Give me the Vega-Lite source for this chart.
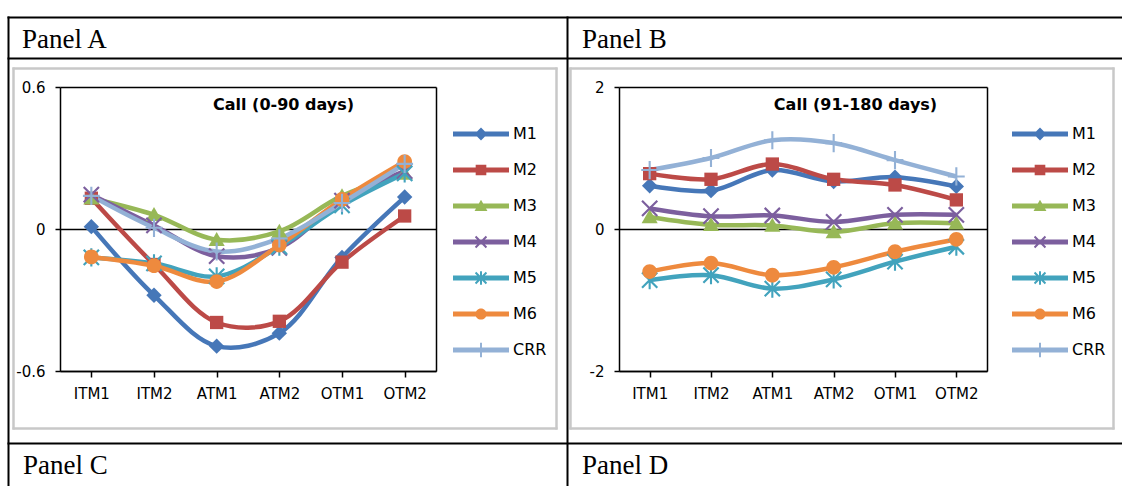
{
  "$schema": "https://vega.github.io/schema/vega-lite/v6.json",
  "background": "white",
  "padding": 0,
  "width": 1122,
  "height": 486,
  "view": {"stroke": null},
  "config": {
    "axis": {"labelFont": "DejaVu Sans", "labelColor": "black", "tickColor": "black", "domainColor": "black"}
  },
  "datasets": {
    "a": [
      {"s": "M1", "k": "ITM1", "v": 0.01}, {"s": "M1", "k": "ITM2", "v": -0.28}, {"s": "M1", "k": "ATM1", "v": -0.495}, {"s": "M1", "k": "ATM2", "v": -0.44}, {"s": "M1", "k": "OTM1", "v": -0.12}, {"s": "M1", "k": "OTM2", "v": 0.135},
      {"s": "M2", "k": "ITM1", "v": 0.13}, {"s": "M2", "k": "ITM2", "v": -0.15}, {"s": "M2", "k": "ATM1", "v": -0.395}, {"s": "M2", "k": "ATM2", "v": -0.39}, {"s": "M2", "k": "OTM1", "v": -0.14}, {"s": "M2", "k": "OTM2", "v": 0.055},
      {"s": "M3", "k": "ITM1", "v": 0.13}, {"s": "M3", "k": "ITM2", "v": 0.06}, {"s": "M3", "k": "ATM1", "v": -0.045}, {"s": "M3", "k": "ATM2", "v": -0.01}, {"s": "M3", "k": "OTM1", "v": 0.14}, {"s": "M3", "k": "OTM2", "v": 0.235},
      {"s": "M4", "k": "ITM1", "v": 0.145}, {"s": "M4", "k": "ITM2", "v": 0.015}, {"s": "M4", "k": "ATM1", "v": -0.115}, {"s": "M4", "k": "ATM2", "v": -0.08}, {"s": "M4", "k": "OTM1", "v": 0.12}, {"s": "M4", "k": "OTM2", "v": 0.245},
      {"s": "M5", "k": "ITM1", "v": -0.12}, {"s": "M5", "k": "ITM2", "v": -0.145}, {"s": "M5", "k": "ATM1", "v": -0.2}, {"s": "M5", "k": "ATM2", "v": -0.075}, {"s": "M5", "k": "OTM1", "v": 0.1}, {"s": "M5", "k": "OTM2", "v": 0.235},
      {"s": "M6", "k": "ITM1", "v": -0.118}, {"s": "M6", "k": "ITM2", "v": -0.155}, {"s": "M6", "k": "ATM1", "v": -0.222}, {"s": "M6", "k": "ATM2", "v": -0.068}, {"s": "M6", "k": "OTM1", "v": 0.125}, {"s": "M6", "k": "OTM2", "v": 0.285},
      {"s": "CRR", "k": "ITM1", "v": 0.14}, {"s": "CRR", "k": "ITM2", "v": 0.005}, {"s": "CRR", "k": "ATM1", "v": -0.095}, {"s": "CRR", "k": "ATM2", "v": -0.04}, {"s": "CRR", "k": "OTM1", "v": 0.11}, {"s": "CRR", "k": "OTM2", "v": 0.275}
    ],
    "b": [
      {"s": "M1", "k": "ITM1", "v": 0.61}, {"s": "M1", "k": "ITM2", "v": 0.54}, {"s": "M1", "k": "ATM1", "v": 0.83}, {"s": "M1", "k": "ATM2", "v": 0.67}, {"s": "M1", "k": "OTM1", "v": 0.73}, {"s": "M1", "k": "OTM2", "v": 0.6},
      {"s": "M2", "k": "ITM1", "v": 0.78}, {"s": "M2", "k": "ITM2", "v": 0.7}, {"s": "M2", "k": "ATM1", "v": 0.915}, {"s": "M2", "k": "ATM2", "v": 0.7}, {"s": "M2", "k": "OTM1", "v": 0.62}, {"s": "M2", "k": "OTM2", "v": 0.41},
      {"s": "M3", "k": "ITM1", "v": 0.17}, {"s": "M3", "k": "ITM2", "v": 0.06}, {"s": "M3", "k": "ATM1", "v": 0.05}, {"s": "M3", "k": "ATM2", "v": -0.04}, {"s": "M3", "k": "OTM1", "v": 0.08}, {"s": "M3", "k": "OTM2", "v": 0.08},
      {"s": "M4", "k": "ITM1", "v": 0.29}, {"s": "M4", "k": "ITM2", "v": 0.18}, {"s": "M4", "k": "ATM1", "v": 0.19}, {"s": "M4", "k": "ATM2", "v": 0.1}, {"s": "M4", "k": "OTM1", "v": 0.2}, {"s": "M4", "k": "OTM2", "v": 0.2},
      {"s": "M5", "k": "ITM1", "v": -0.72}, {"s": "M5", "k": "ITM2", "v": -0.65}, {"s": "M5", "k": "ATM1", "v": -0.84}, {"s": "M5", "k": "ATM2", "v": -0.71}, {"s": "M5", "k": "OTM1", "v": -0.46}, {"s": "M5", "k": "OTM2", "v": -0.25},
      {"s": "M6", "k": "ITM1", "v": -0.6}, {"s": "M6", "k": "ITM2", "v": -0.48}, {"s": "M6", "k": "ATM1", "v": -0.65}, {"s": "M6", "k": "ATM2", "v": -0.54}, {"s": "M6", "k": "OTM1", "v": -0.32}, {"s": "M6", "k": "OTM2", "v": -0.145},
      {"s": "CRR", "k": "ITM1", "v": 0.83}, {"s": "CRR", "k": "ITM2", "v": 1.0}, {"s": "CRR", "k": "ATM1", "v": 1.25}, {"s": "CRR", "k": "ATM2", "v": 1.21}, {"s": "CRR", "k": "OTM1", "v": 0.97}, {"s": "CRR", "k": "OTM2", "v": 0.74}
    ],
    "one": [{"z": 0}]
  },
  "resolve": {"scale": {"x": "independent", "y": "independent", "color": "independent", "shape": "independent"}},
  "layer": [
    {"data": {"name": "one"}, "mark": {"type": "rule", "opacity": 0}, "encoding": {"x": {"field": "z", "type": "quantitative", "scale": {"domain": [0, 1], "range": [7, 1122], "nice": false, "zero": false}, "axis": {"orient": "top", "offset": -17, "labels": false, "ticks": false, "grid": false, "title": null, "domainWidth": 2}}}},
    {"data": {"name": "one"}, "mark": {"type": "rule", "opacity": 0}, "encoding": {"x": {"field": "z", "type": "quantitative", "scale": {"domain": [0, 1], "range": [7, 1122], "nice": false, "zero": false}, "axis": {"orient": "top", "offset": -58, "labels": false, "ticks": false, "grid": false, "title": null, "domainWidth": 2}}}},
    {"data": {"name": "one"}, "mark": {"type": "rule", "opacity": 0}, "encoding": {"x": {"field": "z", "type": "quantitative", "scale": {"domain": [0, 1], "range": [7, 1122], "nice": false, "zero": false}, "axis": {"orient": "top", "offset": -443, "labels": false, "ticks": false, "grid": false, "title": null, "domainWidth": 2}}}},
    {"data": {"name": "one"}, "mark": {"type": "rule", "opacity": 0}, "encoding": {"y": {"field": "z", "type": "quantitative", "scale": {"domain": [0, 1], "range": [486, 16], "nice": false, "zero": false}, "axis": {"orient": "left", "offset": -8, "labels": false, "ticks": false, "grid": false, "title": null, "domainWidth": 2}}}},
    {"data": {"name": "one"}, "mark": {"type": "rule", "opacity": 0}, "encoding": {"y": {"field": "z", "type": "quantitative", "scale": {"domain": [0, 1], "range": [486, 16], "nice": false, "zero": false}, "axis": {"orient": "left", "offset": -567, "labels": false, "ticks": false, "grid": false, "title": null, "domainWidth": 2}}}},

    {"data": {"name": "one"}, "mark": {"type": "rule", "opacity": 0}, "encoding": {"x": {"field": "z", "type": "quantitative", "scale": {"domain": [0, 1], "range": [12, 557], "nice": false, "zero": false}, "axis": {"orient": "top", "offset": -68, "labels": false, "ticks": false, "grid": false, "title": null, "domainColor": "#c8c8c8", "domainWidth": 2.5}}}},
    {"data": {"name": "one"}, "mark": {"type": "rule", "opacity": 0}, "encoding": {"x": {"field": "z", "type": "quantitative", "scale": {"domain": [0, 1], "range": [12, 557], "nice": false, "zero": false}, "axis": {"orient": "top", "offset": -428, "labels": false, "ticks": false, "grid": false, "title": null, "domainColor": "#c8c8c8", "domainWidth": 2.5}}}},
    {"data": {"name": "one"}, "mark": {"type": "rule", "opacity": 0}, "encoding": {"y": {"field": "z", "type": "quantitative", "scale": {"domain": [0, 1], "range": [429, 67], "nice": false, "zero": false}, "axis": {"orient": "left", "offset": -13, "labels": false, "ticks": false, "grid": false, "title": null, "domainColor": "#c8c8c8", "domainWidth": 2.5}}}},
    {"data": {"name": "one"}, "mark": {"type": "rule", "opacity": 0}, "encoding": {"y": {"field": "z", "type": "quantitative", "scale": {"domain": [0, 1], "range": [429, 67], "nice": false, "zero": false}, "axis": {"orient": "left", "offset": -556, "labels": false, "ticks": false, "grid": false, "title": null, "domainColor": "#c8c8c8", "domainWidth": 2.5}}}},
    {"data": {"name": "one"}, "mark": {"type": "rule", "opacity": 0}, "encoding": {"x": {"field": "z", "type": "quantitative", "scale": {"domain": [0, 1], "range": [569, 1114], "nice": false, "zero": false}, "axis": {"orient": "top", "offset": -68, "labels": false, "ticks": false, "grid": false, "title": null, "domainColor": "#c8c8c8", "domainWidth": 2.5}}}},
    {"data": {"name": "one"}, "mark": {"type": "rule", "opacity": 0}, "encoding": {"x": {"field": "z", "type": "quantitative", "scale": {"domain": [0, 1], "range": [569, 1114], "nice": false, "zero": false}, "axis": {"orient": "top", "offset": -428, "labels": false, "ticks": false, "grid": false, "title": null, "domainColor": "#c8c8c8", "domainWidth": 2.5}}}},
    {"data": {"name": "one"}, "mark": {"type": "rule", "opacity": 0}, "encoding": {"y": {"field": "z", "type": "quantitative", "scale": {"domain": [0, 1], "range": [429, 67], "nice": false, "zero": false}, "axis": {"orient": "left", "offset": -570, "labels": false, "ticks": false, "grid": false, "title": null, "domainColor": "#c8c8c8", "domainWidth": 2.5}}}},
    {"data": {"name": "one"}, "mark": {"type": "rule", "opacity": 0}, "encoding": {"y": {"field": "z", "type": "quantitative", "scale": {"domain": [0, 1], "range": [429, 67], "nice": false, "zero": false}, "axis": {"orient": "left", "offset": -1113, "labels": false, "ticks": false, "grid": false, "title": null, "domainColor": "#c8c8c8", "domainWidth": 2.5}}}},

    {"data": {"name": "one"}, "mark": {"type": "rule", "opacity": 0}, "encoding": {"y": {"field": "z", "type": "quantitative", "scale": {"domain": [0, 1], "range": [371, 87], "nice": false, "zero": false}, "axis": {"orient": "left", "offset": -436, "labels": false, "ticks": false, "grid": false, "title": null, "domainWidth": 1.5}}}},
    {"data": {"name": "one"}, "mark": {"type": "rule", "opacity": 0}, "encoding": {"y": {"field": "z", "type": "quantitative", "scale": {"domain": [0, 1], "range": [371, 87], "nice": false, "zero": false}, "axis": {"orient": "left", "offset": -987, "labels": false, "ticks": false, "grid": false, "title": null, "domainWidth": 1.5}}}},

    {
      "data": {"name": "a"},
      "mark": {"type": "line", "interpolate": "catmull-rom", "strokeWidth": 4.5},
      "encoding": {
        "x": {"field": "k", "type": "nominal", "scale": {"type": "point", "domain": ["ITM1", "ITM2", "ATM1", "ATM2", "OTM1", "OTM2"], "range": [60, 436], "padding": 0.5}, "axis": {"orient": "bottom", "offset": -115, "title": null, "labelAngle": 0, "labelFontSize": 15, "labelPadding": 9, "tickSize": 6, "tickWidth": 1.5, "domainWidth": 1.5, "grid": false}},
        "y": {"field": "v", "type": "quantitative", "scale": {"domain": [-0.6, 0.6], "range": [371, 87], "nice": false, "zero": false}, "axis": {"orient": "left", "offset": -60, "values": [-0.6, 0, 0.6], "labelExpr": "'' + datum.value", "title": null, "labelFontSize": 15, "labelPadding": 10, "tickSize": 5, "tickWidth": 1.5, "domainWidth": 1.5, "grid": true, "gridColor": "black", "gridWidth": 1.5, "gridOpacity": 1}},
        "color": {"field": "s", "type": "nominal", "sort": ["M1", "M2", "M3", "M4", "M5", "M6", "CRR"], "scale": {"range": ["#4677b8", "#bc4a47", "#97b857", "#7c5f9e", "#42a3bd", "#ee8a3e", "#93b1d6"]}, "legend": null}
      }
    },
    {
      "data": {"name": "a"},
      "mark": {"type": "point", "filled": true, "opacity": 1, "size": 196, "strokeWidth": 0},
      "encoding": {
        "x": {"field": "k", "type": "nominal", "scale": {"type": "point", "domain": ["ITM1", "ITM2", "ATM1", "ATM2", "OTM1", "OTM2"], "range": [60, 436], "padding": 0.5}, "axis": null},
        "y": {"field": "v", "type": "quantitative", "scale": {"domain": [-0.6, 0.6], "range": [371, 87], "nice": false, "zero": false}, "axis": null},
        "color": {"field": "s", "type": "nominal", "sort": ["M1", "M2", "M3", "M4", "M5", "M6", "CRR"], "scale": {"range": ["#4677b8", "#bc4a47", "#97b857", "#7c5f9e", "#42a3bd", "#ee8a3e", "#93b1d6"]},
          "legend": {"orient": "none", "legendX": 453, "legendY": 106, "title": null, "padding": 0, "symbolSize": 3136, "symbolStrokeWidth": 0, "symbolOpacity": 1, "labelFont": "DejaVu Sans", "labelFontSize": 16, "labelColor": "black", "labelOffset": 4, "rowPadding": 0,
            "encode": {"symbols": {"update": {"shape": {"signal": "datum.value === 'M1' ? 'M-1,-0.085H1V0.085H-1Z M0,-0.23L0.23,0L0,0.23L-0.23,0Z' : datum.value === 'M2' ? 'M-1,-0.085H1V0.085H-1Z M-0.19,-0.19H0.19V0.19H-0.19Z' : datum.value === 'M3' ? 'M-1,-0.085H1V0.085H-1Z M0,-0.22L0.23,0.18H-0.23Z' : datum.value === 'M4' ? 'M-1,-0.085H1V0.085H-1Z M-0.22,-0.17L-0.17,-0.22L0.22,0.17L0.17,0.22Z M0.17,-0.22L0.22,-0.17L-0.17,0.22L-0.22,0.17Z' : datum.value === 'M5' ? 'M-1,-0.085H1V0.085H-1Z M-0.22,-0.17L-0.17,-0.22L0.22,0.17L0.17,0.22Z M0.17,-0.22L0.22,-0.17L-0.17,0.22L-0.22,0.17Z M-0.035,-0.24H0.035V0.24H-0.035Z' : datum.value === 'M6' ? 'M-1,-0.085H1V0.085H-1Z M-0.2,0A0.2,0.2,0,1,1,0.2,0A0.2,0.2,0,1,1,-0.2,0Z' : 'M-1,-0.085H1V0.085H-1Z M-0.035,-0.26H0.035V0.26H-0.035Z'"}}}}}},
        "shape": {"field": "s", "type": "nominal", "sort": ["M1", "M2", "M3", "M4", "M5", "M6", "CRR"], "scale": {"range": ["M0,-1.1L1.1,0L0,1.1L-1.1,0Z", "M-0.95,-0.95H0.95V0.95H-0.95Z", "M0,-1.1L1.15,0.9H-1.15Z", "M-1.2,-0.98L-0.98,-1.2L1.2,0.98L0.98,1.2Z M0.98,-1.2L1.2,-0.98L-0.98,1.2L-1.2,0.98Z", "M-1.2,-0.98L-0.98,-1.2L1.2,0.98L0.98,1.2Z M0.98,-1.2L1.2,-0.98L-0.98,1.2L-1.2,0.98Z M-0.15,-1.3H0.15V1.3H-0.15Z", "M-1.05,0A1.05,1.05,0,1,1,1.05,0A1.05,1.05,0,1,1,-1.05,0Z", "M-0.15,-1.3H0.15V1.3H-0.15Z M-1.2,-0.15H1.2V0.15H-1.2Z"]}, "legend": null}
      }
    },
    {
      "data": {"name": "b"},
      "mark": {"type": "line", "interpolate": "catmull-rom", "strokeWidth": 4.5},
      "encoding": {
        "x": {"field": "k", "type": "nominal", "scale": {"type": "point", "domain": ["ITM1", "ITM2", "ATM1", "ATM2", "OTM1", "OTM2"], "range": [619, 987], "padding": 0.5}, "axis": {"orient": "bottom", "offset": -115, "title": null, "labelAngle": 0, "labelFontSize": 15, "labelPadding": 9, "tickSize": 6, "tickWidth": 1.5, "domainWidth": 1.5, "grid": false}},
        "y": {"field": "v", "type": "quantitative", "scale": {"domain": [-2, 2], "range": [371, 87], "nice": false, "zero": false}, "axis": {"orient": "left", "offset": -619, "values": [-2, 0, 2], "labelExpr": "'' + datum.value", "title": null, "labelFontSize": 15, "labelPadding": 10, "tickSize": 5, "tickWidth": 1.5, "domainWidth": 1.5, "grid": true, "gridColor": "black", "gridWidth": 1.5, "gridOpacity": 1}},
        "color": {"field": "s", "type": "nominal", "sort": ["M1", "M2", "M3", "M4", "M5", "M6", "CRR"], "scale": {"range": ["#4677b8", "#bc4a47", "#97b857", "#7c5f9e", "#42a3bd", "#ee8a3e", "#93b1d6"]}, "legend": null}
      }
    },
    {
      "data": {"name": "b"},
      "mark": {"type": "point", "filled": true, "opacity": 1, "size": 196, "strokeWidth": 0},
      "encoding": {
        "x": {"field": "k", "type": "nominal", "scale": {"type": "point", "domain": ["ITM1", "ITM2", "ATM1", "ATM2", "OTM1", "OTM2"], "range": [619, 987], "padding": 0.5}, "axis": null},
        "y": {"field": "v", "type": "quantitative", "scale": {"domain": [-2, 2], "range": [371, 87], "nice": false, "zero": false}, "axis": null},
        "color": {"field": "s", "type": "nominal", "sort": ["M1", "M2", "M3", "M4", "M5", "M6", "CRR"], "scale": {"range": ["#4677b8", "#bc4a47", "#97b857", "#7c5f9e", "#42a3bd", "#ee8a3e", "#93b1d6"]},
          "legend": {"orient": "none", "legendX": 1012, "legendY": 106, "title": null, "padding": 0, "symbolSize": 3136, "symbolStrokeWidth": 0, "symbolOpacity": 1, "labelFont": "DejaVu Sans", "labelFontSize": 16, "labelColor": "black", "labelOffset": 4, "rowPadding": 0,
            "encode": {"symbols": {"update": {"shape": {"signal": "datum.value === 'M1' ? 'M-1,-0.085H1V0.085H-1Z M0,-0.23L0.23,0L0,0.23L-0.23,0Z' : datum.value === 'M2' ? 'M-1,-0.085H1V0.085H-1Z M-0.19,-0.19H0.19V0.19H-0.19Z' : datum.value === 'M3' ? 'M-1,-0.085H1V0.085H-1Z M0,-0.22L0.23,0.18H-0.23Z' : datum.value === 'M4' ? 'M-1,-0.085H1V0.085H-1Z M-0.22,-0.17L-0.17,-0.22L0.22,0.17L0.17,0.22Z M0.17,-0.22L0.22,-0.17L-0.17,0.22L-0.22,0.17Z' : datum.value === 'M5' ? 'M-1,-0.085H1V0.085H-1Z M-0.22,-0.17L-0.17,-0.22L0.22,0.17L0.17,0.22Z M0.17,-0.22L0.22,-0.17L-0.17,0.22L-0.22,0.17Z M-0.035,-0.24H0.035V0.24H-0.035Z' : datum.value === 'M6' ? 'M-1,-0.085H1V0.085H-1Z M-0.2,0A0.2,0.2,0,1,1,0.2,0A0.2,0.2,0,1,1,-0.2,0Z' : 'M-1,-0.085H1V0.085H-1Z M-0.035,-0.26H0.035V0.26H-0.035Z'"}}}}}},
        "shape": {"field": "s", "type": "nominal", "sort": ["M1", "M2", "M3", "M4", "M5", "M6", "CRR"], "scale": {"range": ["M0,-1.1L1.1,0L0,1.1L-1.1,0Z", "M-0.95,-0.95H0.95V0.95H-0.95Z", "M0,-1.1L1.15,0.9H-1.15Z", "M-1.2,-0.98L-0.98,-1.2L1.2,0.98L0.98,1.2Z M0.98,-1.2L1.2,-0.98L-0.98,1.2L-1.2,0.98Z", "M-1.2,-0.98L-0.98,-1.2L1.2,0.98L0.98,1.2Z M0.98,-1.2L1.2,-0.98L-0.98,1.2L-1.2,0.98Z M-0.15,-1.3H0.15V1.3H-0.15Z", "M-1.05,0A1.05,1.05,0,1,1,1.05,0A1.05,1.05,0,1,1,-1.05,0Z", "M-0.15,-1.3H0.15V1.3H-0.15Z M-1.2,-0.15H1.2V0.15H-1.2Z"]}, "legend": null}
      }
    },

    {"data": {"values": [{"t": "Call (0-90 days)"}]}, "mark": {"type": "text", "font": "DejaVu Sans", "fontSize": 16, "fontWeight": "bold", "color": "black", "align": "center", "baseline": "alphabetic", "dx": -277.5, "dy": -133}, "encoding": {"text": {"field": "t"}}},
    {"data": {"values": [{"t": "Call (91-180 days)"}]}, "mark": {"type": "text", "font": "DejaVu Sans", "fontSize": 16, "fontWeight": "bold", "color": "black", "align": "center", "baseline": "alphabetic", "dx": 294.5, "dy": -133}, "encoding": {"text": {"field": "t"}}},
    {"data": {"values": [{"t": "Panel A"}]}, "mark": {"type": "text", "font": "Liberation Serif", "fontSize": 27, "color": "black", "align": "left", "baseline": "alphabetic", "dx": -539, "dy": -195}, "encoding": {"text": {"field": "t"}}},
    {"data": {"values": [{"t": "Panel B"}]}, "mark": {"type": "text", "font": "Liberation Serif", "fontSize": 27, "color": "black", "align": "left", "baseline": "alphabetic", "dx": 21, "dy": -195}, "encoding": {"text": {"field": "t"}}},
    {"data": {"values": [{"t": "Panel C"}]}, "mark": {"type": "text", "font": "Liberation Serif", "fontSize": 27, "color": "black", "align": "left", "baseline": "alphabetic", "dx": -538, "dy": 231}, "encoding": {"text": {"field": "t"}}},
    {"data": {"values": [{"t": "Panel D"}]}, "mark": {"type": "text", "font": "Liberation Serif", "fontSize": 27, "color": "black", "align": "left", "baseline": "alphabetic", "dx": 21, "dy": 231}, "encoding": {"text": {"field": "t"}}}
  ]
}
